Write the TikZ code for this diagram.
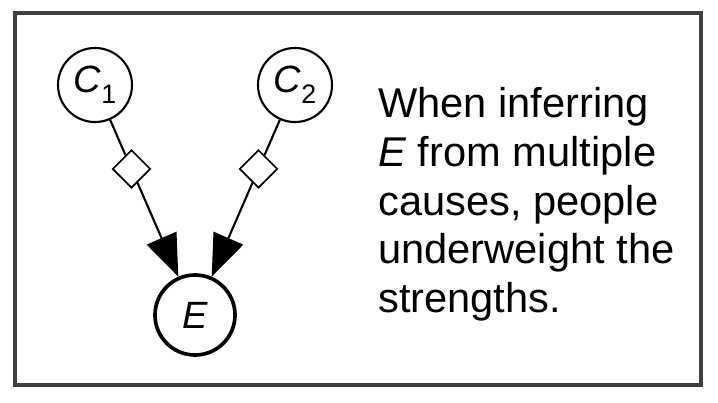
\documentclass[tikz,border=0pt]{standalone}
\usepackage{fontspec}
\setmainfont{Liberation Sans}
\usetikzlibrary{shapes.geometric, arrows.meta, calc}
\begin{document}
\begin{tikzpicture}[x=0.025cm, y=-0.025cm,
		cause/.style={circle, draw, line width=1.5pt, minimum size=1.85cm, inner sep=0pt, font=\fontsize{27}{27}\selectfont\itshape},
		effect/.style={circle, draw, line width=2.6pt, minimum size=2cm, inner sep=0pt, font=\fontsize{27}{27}\selectfont\itshape},
		weight/.style={diamond, draw, fill=white, line width=1.2pt, minimum size=0.95cm, inner sep=0pt},
		link/.style={line width=1.5pt, -{Triangle[length=1.05cm, width=0.8cm]}}]
			\useasboundingbox (0,0) rectangle (718,402);
			\draw[line width=2.4pt, black!75] (15,13) rectangle (701,385);

			\node[cause] (c1) at (95,85) {C\raisebox{-0.3em}{\fontsize{19}{19}\selectfont\upshape 1}};
			\node[cause] (c2) at (295,85) {C\raisebox{-0.3em}{\fontsize{19}{19}\selectfont\upshape 2}};
			\node[effect] (e) at (195,315) {E};

			% strength markers on the links
			\node[weight] (w1) at ($(c1)!0.365!(e)$) {};
			\node[weight] (w2) at ($(c2)!0.365!(e)$) {};

			\draw[line width=1.5pt] (c1) -- (w1);
			\draw[line width=1.5pt] (c2) -- (w2);
			\draw[link] (w1) -- (e);
			\draw[link] (w2) -- (e);

			\node[anchor=north west, inner sep=0pt, align=left, font=\fontsize{29.6}{34.7}\selectfont] (note) at (378,87) {When inferring\\ \textit{E} from multiple\\ causes, people\\ underweight the\\ strengths.};
		\end{tikzpicture}
\end{document}
